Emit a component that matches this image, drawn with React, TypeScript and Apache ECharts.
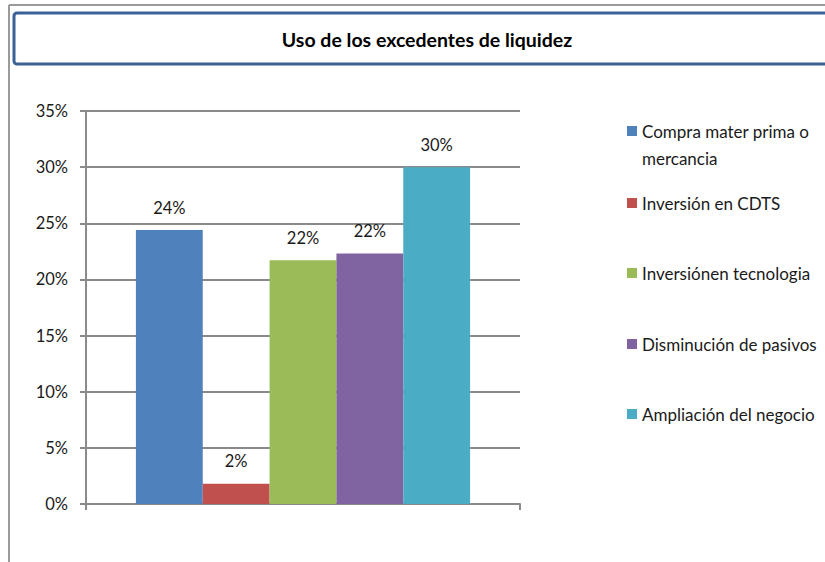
import React, { useEffect, useRef } from "react";
import * as echarts from "echarts";

const titleText = "Uso de los excedentes de liquidez";
const categories = [""];
const seriesNames = [
  "Compra mater prima o mercancia",
  "Inversión en CDTS",
  "Inversiónen tecnologia",
  "Disminución de pasivos",
  "Ampliación del negocio",
];
const seriesValues = [24.4, 1.8, 21.7, 22.3, 30.0];
const seriesColors = ["#4F81BD", "#C0504D", "#9BBB59", "#8064A2", "#4BACC6"];
const legendCenters = [131, 203, 273, 344, 414];

const FONT = "Lato, 'Liberation Sans', sans-serif";

export default function App() {
  const ref = useRef<HTMLDivElement>(null);
  useEffect(() => {
    if (!ref.current) return;
    const chart = echarts.init(ref.current, undefined, { renderer: "svg" });
    const legends = seriesNames.map((name, i) => {
      const first = i === 0;
      const lh = first ? 27 : 20;
      const h = first ? 81 : 20;
      return {
        data: [name],
        orient: "vertical",
        left: 627,
        top: legendCenters[i] - h / 2,
        itemWidth: 10,
        itemHeight: 10,
        icon: "rect",
        selectedMode: false,
        padding: 0,
        formatter: (n: string) =>
          first ? "\nCompra mater prima o\nmercancia" : n,
        textStyle: {
          fontFamily: FONT,
          fontSize: 17,
          color: "#1a1a1a",
          lineHeight: lh,
        },
      };
    });
    chart.setOption({
      animation: false,
      backgroundColor: "#ffffff",
      title: {
        text: titleText,
        left: 422,
        top: 24,
        textAlign: "center",
        textStyle: {
          fontFamily: FONT,
          fontSize: 19.5,
          fontWeight: "bold",
          color: "#000000",
        },
      },
      graphic: [
        {
          type: "line",
          shape: { x1: 9, y1: 5, x2: 9, y2: 562 },
          style: { stroke: "#9a9a9a", lineWidth: 2 },
        },
        {
          type: "line",
          shape: { x1: 9, y1: 5, x2: 825, y2: 5 },
          style: { stroke: "#9a9a9a", lineWidth: 2 },
        },
        {
          type: "rect",
          z: -1,
          shape: { x: 14, y: 13, width: 840, height: 51, r: 3 },
          style: { fill: "#ffffff", stroke: "#3B6196", lineWidth: 3 },
        },
      ],
      legend: legends,
      grid: { left: 86, right: 305, top: 111, bottom: 58 },
      xAxis: {
        type: "category",
        data: categories,
        axisLine: { lineStyle: { color: "#8a8a8a", width: 2 } },
        axisTick: { show: true, length: 6, lineStyle: { color: "#8a8a8a", width: 2 } },
        axisLabel: { show: false },
      },
      yAxis: {
        type: "value",
        min: 0,
        max: 35,
        interval: 5,
        axisLine: { show: true, lineStyle: { color: "#8a8a8a", width: 2 } },
        axisTick: { show: true, length: 6, lineStyle: { color: "#8a8a8a", width: 2 } },
        splitLine: { show: true, lineStyle: { color: "#8a8a8a", width: 2 } },
        axisLabel: {
          formatter: "{value}%",
          margin: 18,
          fontFamily: FONT,
          fontSize: 16.5,
          color: "#1a1a1a",
        },
      },
      series: seriesNames.map((name, i) => ({
        type: "bar",
        name,
        data: [seriesValues[i]],
        barGap: "0%",
        barCategoryGap: "23%",
        itemStyle: { color: seriesColors[i] },
        label: {
          show: true,
          position: "top",
          distance: 14,
          formatter: (p: any) => Math.round(p.value) + "%",
          fontFamily: FONT,
          fontSize: 16.5,
          color: "#1a1a1a",
        },
      })),
    });
    return () => chart.dispose();
  }, []);
  return (
    <div
      ref={ref}
      style={{ position: "absolute", left: 0, top: 0, width: 825, height: 562 }}
    />
  );
}
